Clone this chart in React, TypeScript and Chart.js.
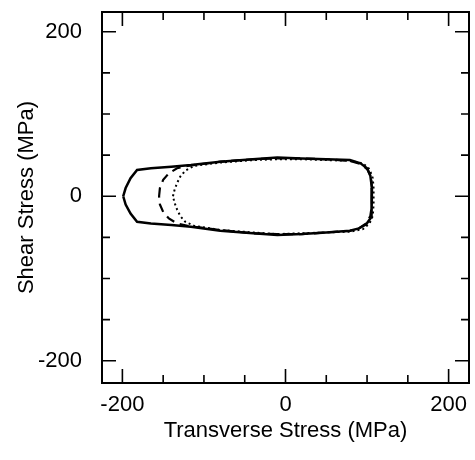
import React, { useEffect, useRef } from 'react';
import { Chart, registerables } from 'chart.js';

Chart.register(...registerables);

// Solid envelope (MPa)
const solidX = [-199, -196, -190, -182, -165, -140, -116, -80, -40, -10, 20, 50, 79, 92, 100, 104, 106, 106, 105, 99, 90, 79, 50, 20, -10, -40, -80, -116, -140, -165, -182, -190, -196, -199];
const solidY = [0, 10, 22, 32, 34, 36, 38, 42, 45, 47, 46, 45, 44, 40, 34, 25, 10, -10, -25, -34, -39, -42, -44, -46, -47, -45, -42, -37, -35, -33, -31, -21, -10, 0];

// Dashed envelope
const dashedX = [-155, -154, -150, -143, -133, -120, -80, -40, -10, 20, 50, 79, 93, 101, 105, 106, 106, 104, 99, 90, 79, 50, 20, -10, -40, -80, -120, -133, -143, -150, -154, -155];
const dashedY = [0, 10, 20, 28, 34, 37, 42, 45, 46, 46, 45, 43, 39, 32, 22, 10, -10, -24, -33, -39, -42, -44, -46, -46, -45, -41, -36, -33, -27, -19, -10, 0];

// Dotted envelope
const dottedX = [-138, -136, -133, -129, -123, -112, -80, -40, -10, 20, 50, 79, 95, 103, 107, 108, 108, 107, 103, 95, 79, 50, 20, -10, -40, -80, -112, -123, -129, -133, -136, -138];
const dottedY = [0, 8, 16, 24, 31, 37, 41, 44, 45, 45, 44, 43, 40, 33, 22, 10, -10, -24, -33, -40, -43, -44, -45, -46, -44, -41, -36, -31, -24, -16, -8, 0];

const xLabelValues = [-200, 0, 200];
const yLabelValues = [-200, 0, 200];
const tickMarkValues = [-200, -150, -100, -50, 0, 50, 100, 150, 200];

const xTitle = 'Transverse Stress (MPa)';
const yTitle = 'Shear Stress (MPa)';

const toPoints = (xs: number[], ys: number[]) => xs.map((x, i) => ({ x, y: ys[i] }));

const FONT = "'Liberation Sans', Arial, Helvetica, sans-serif";

const zeroPadding = (s: any) => {
  s.paddingTop = 0;
  s.paddingBottom = 0;
  s.paddingLeft = 0;
  s.paddingRight = 0;
};

const framePlugin = {
  id: 'frameTicks',
  afterDraw(chart: any) {
    const { ctx, chartArea, scales } = chart;
    const { left, right, top, bottom } = chartArea;
    const xs = scales.x;
    const ys = scales.y;
    ctx.save();
    ctx.strokeStyle = '#000';
    ctx.lineWidth = 2;
    ctx.strokeRect(left, top, right - left, bottom - top);
    ctx.lineWidth = 1.6;
    ctx.beginPath();
    for (const v of tickMarkValues) {
      const len = v % 200 === 0 ? 14 : 8;
      const px = xs.getPixelForValue(v);
      ctx.moveTo(px, bottom);
      ctx.lineTo(px, bottom - len);
      ctx.moveTo(px, top);
      ctx.lineTo(px, top + len);
      const py = ys.getPixelForValue(v);
      ctx.moveTo(left, py);
      ctx.lineTo(left + len, py);
      ctx.moveTo(right, py);
      ctx.lineTo(right - len, py);
    }
    ctx.stroke();
    ctx.restore();
  },
};

export default function App() {
  const ref = useRef<HTMLCanvasElement | null>(null);

  useEffect(() => {
    if (!ref.current) return;
    const chart = new Chart(ref.current, {
      type: 'scatter',
      data: {
        datasets: [
          {
            label: 'dotted',
            data: toPoints(dottedX, dottedY),
            showLine: true,
            borderColor: '#000',
            borderWidth: 2,
            borderDash: [2, 3],
            pointRadius: 0,
            fill: false,
            tension: 0,
          },
          {
            label: 'dashed',
            data: toPoints(dashedX, dashedY),
            showLine: true,
            borderColor: '#000',
            borderWidth: 2.2,
            borderDash: [9, 6],
            pointRadius: 0,
            fill: false,
            tension: 0,
          },
          {
            label: 'solid',
            data: toPoints(solidX, solidY),
            showLine: true,
            borderColor: '#000',
            borderWidth: 2.5,
            pointRadius: 0,
            fill: false,
            tension: 0,
          },
        ],
      },
      options: {
        animation: false,
        responsive: false,
        maintainAspectRatio: false,
        layout: { padding: { left: 0, top: 12, right: 6, bottom: 0 } },
        plugins: {
          legend: { display: false },
          tooltip: { enabled: false },
        },
        scales: {
          x: {
            type: 'linear',
            position: 'bottom',
            min: -225,
            max: 225,
            grid: { display: false, drawTicks: false },
            border: { display: false },
            afterBuildTicks: (s: any) => {
              s.ticks = xLabelValues.map((v) => ({ value: v }));
            },
            afterFit: (s: any) => {
              s.height = 77;
              zeroPadding(s);
            },
            ticks: {
              color: '#000',
              padding: 9,
              maxRotation: 0,
              autoSkip: false,
              font: { family: FONT, size: 22 },
              callback: (v: any) => String(v),
            },
            title: {
              display: true,
              text: xTitle,
              color: '#000',
              font: { family: FONT, size: 22 },
              padding: { top: 0, bottom: 16 },
            },
          },
          y: {
            type: 'linear',
            position: 'left',
            min: -227,
            max: 224,
            grid: { display: false, drawTicks: false },
            border: { display: false },
            afterBuildTicks: (s: any) => {
              s.ticks = yLabelValues.map((v) => ({ value: v }));
            },
            afterFit: (s: any) => {
              s.width = 102;
              zeroPadding(s);
            },
            ticks: {
              color: '#000',
              padding: 20,
              autoSkip: false,
              font: { family: FONT, size: 22 },
              callback: (v: any) => String(v),
            },
            title: {
              display: true,
              text: yTitle,
              color: '#000',
              font: { family: FONT, size: 22 },
              padding: { top: 14, bottom: 0 },
            },
          },
        },
      },
      plugins: [framePlugin],
    });
    return () => chart.destroy();
  }, []);

  return (
    <div style={{ position: 'absolute', left: 0, top: 0, width: 475, height: 460, background: '#fff' }}>
      <canvas ref={ref} width={475} height={460} style={{ width: 475, height: 460, display: 'block' }} />
    </div>
  );
}
